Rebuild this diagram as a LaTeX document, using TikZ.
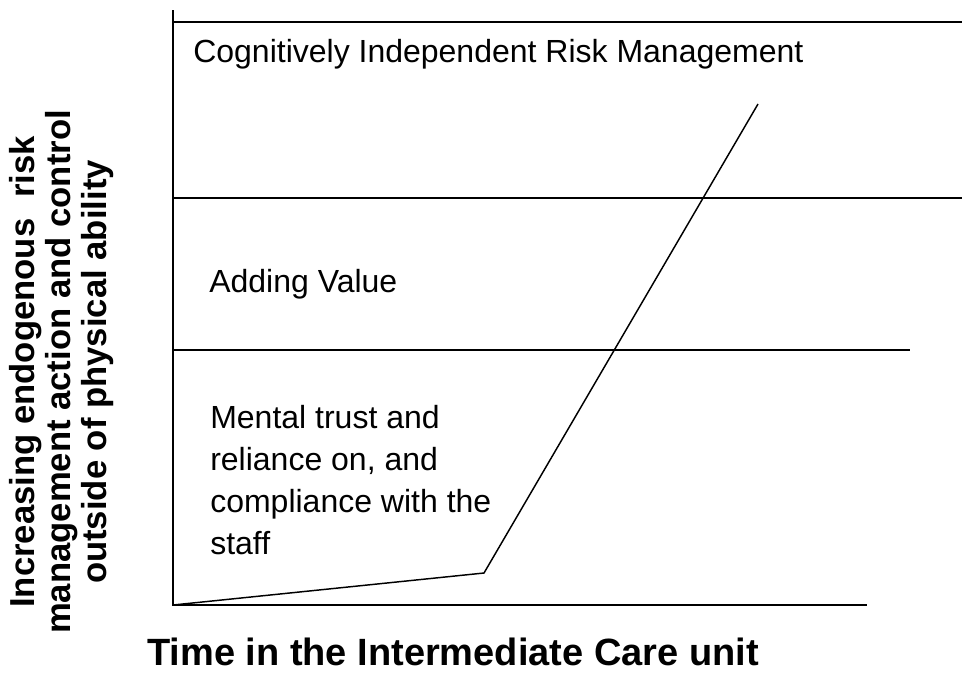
\documentclass[tikz,border=0pt]{standalone}
\usepackage{fontspec}
\setmainfont{Liberation Sans}
\usetikzlibrary{positioning}
\tikzset{
  rule/.style={line width=1.1pt},
  trend/.style={line width=1.1pt, line join=miter},
  zonetext/.style={anchor=base west, inner sep=0pt, align=left,
                   font=\fontsize{24}{31.5}\selectfont},
  axistext/.style={inner sep=0pt, align=center,
                   font=\bfseries\fontsize{26}{27}\selectfont}
}

\begin{document}
\begin{tikzpicture}[x=0.75pt, y=-0.75pt]
  \useasboundingbox (0,0) rectangle (962,672);
  % axes
  \coordinate (origin) at (173,605);
  \coordinate (ytop) at (173,10);
  \coordinate (xend) at (867,605);
  % band borders
  \coordinate (topL) at (173,22);
  \coordinate (topR) at (962,22);
  \coordinate (midL) at (173,198);
  \coordinate (midR) at (962,198);
  \coordinate (lowL) at (173,350);
  \coordinate (lowR) at (910,350);
  % curve
  \coordinate (knee) at (484,573);
  \coordinate (peak) at (758,104);

  \draw[rule] (ytop) -- (origin) -- (xend);
  \draw[rule] (topL) -- (topR);
  \draw[rule] (midL) -- (midR);
  \draw[rule] (lowL) -- (lowR);
  \draw[trend] (origin) -- (knee) -- (peak);

  \node[zonetext] (cognitive) at (193,62) {Cognitively Independent Risk Management};
  \node[zonetext] (value) at (209,292) {Adding Value};
  % base anchor sits on the last line here
  \node[zonetext] (trust) at (210,554) {Mental trust and\\reliance on, and\\compliance with the\\staff};

  \node[axistext, rotate=90] (ylabel) at (62,372)
    {Increasing endogenous\hspace{0.6em}risk\\management action and control\\outside of physical ability};
  \node[axistext, anchor=base, font=\bfseries\fontsize{28.5}{30}\selectfont]
    (xlabel) at (453,665) {Time in the Intermediate Care unit};
\end{tikzpicture}
\end{document}
